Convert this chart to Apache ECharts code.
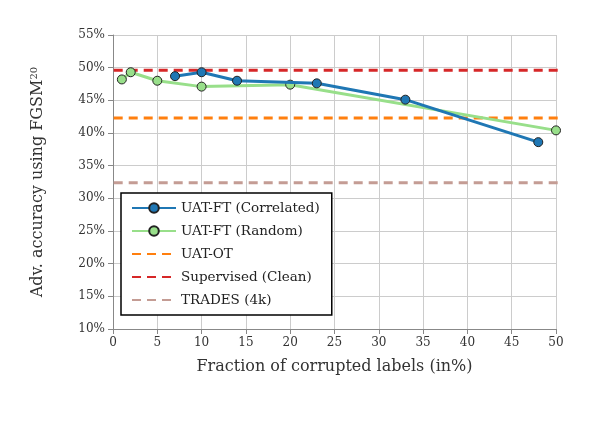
<!DOCTYPE html>
<html>
<head>
<meta charset="utf-8">
<script src="https://cdn.jsdelivr.net/npm/echarts@6/dist/echarts.min.js"></script>
<style>html,body{margin:0;padding:0;background:#fff}#chart{width:594px;height:424px}</style>
</head>
<body>
<div id="chart"></div>
<script>
// data
const corrX = [7, 10, 14, 23, 33, 48];
const corrY = [48.7, 49.3, 48.0, 47.6, 45.1, 38.6];
const randX = [1, 2, 5, 10, 20, 50];
const randY = [48.2, 49.3, 48.0, 47.1, 47.4, 40.4];
const uatOt = 42.3;
const supervised = 49.6;
const trades = 32.4;

const font = 'DejaVu Serif';
const pair = (xs, ys) => xs.map((x, i) => [x, ys[i]]);
const flat = (v) => [[-5, v], [60, v]];
const noMark = (name) => ({ name: name, itemStyle: { opacity: 0 } });

const chart = echarts.init(document.getElementById('chart'));
chart.setOption({
    animation: false,
    textStyle: { fontFamily: font },
    grid: { left: 113, right: 38, top: 35, bottom: 95 },
    xAxis: {
        type: 'value', min: 0, max: 50, interval: 5,
        name: 'Fraction of corrupted labels (in%)',
        nameLocation: 'middle', nameGap: 30,
        nameTextStyle: { fontSize: 16, color: '#333', fontFamily: font },
        axisLine: { lineStyle: { color: '#888' } },
        axisTick: { show: true, lineStyle: { color: '#888' } },
        axisLabel: { fontSize: 12, color: '#333', fontFamily: font },
        splitLine: { show: true, lineStyle: { color: '#ccc' } }
    },
    yAxis: {
        type: 'value', min: 10, max: 55, interval: 5,
        name: 'Adv. accuracy using FGSM{sup|20}',
        nameLocation: 'middle', nameGap: 66,
        nameTextStyle: { fontSize: 16, color: '#333', fontFamily: font,
            rich: { sup: { fontSize: 10, verticalAlign: 'top', padding: [0, 0, 8, 0], fontFamily: font } } },
        axisLine: { show: true, lineStyle: { color: '#888' } },
        axisTick: { show: true, lineStyle: { color: '#888' } },
        axisLabel: { fontSize: 12, color: '#333', fontFamily: font, formatter: '{value}%' },
        splitLine: { show: true, lineStyle: { color: '#ccc' } }
    },
    legend: {
        orient: 'vertical', left: 121, top: 193, padding: [8, 12, 8, 10],
        borderColor: '#000', borderWidth: 1.5, backgroundColor: '#fff',
        itemWidth: 44, itemHeight: 12, itemGap: 9,
        textStyle: { fontSize: 13.5, color: '#222', fontFamily: font },
        data: ['UAT-FT (Correlated)', 'UAT-FT (Random)', noMark('UAT-OT'), noMark('Supervised (Clean)'), noMark('TRADES (4k)')]
    },
    series: [
        { name: 'UAT-OT', type: 'line', data: flat(uatOt), symbol: 'none', z: 1,
          lineStyle: { color: '#ff7f0e', width: 3, type: [9, 6] }, itemStyle: { color: '#ff7f0e' } },
        { name: 'Supervised (Clean)', type: 'line', data: flat(supervised), symbol: 'none', z: 1,
          lineStyle: { color: '#d62728', width: 3, type: [9, 6] }, itemStyle: { color: '#d62728' } },
        { name: 'TRADES (4k)', type: 'line', data: flat(trades), symbol: 'none', z: 1,
          lineStyle: { color: '#c49c94', width: 3, type: [9, 6] }, itemStyle: { color: '#c49c94' } },
        { name: 'UAT-FT (Correlated)', type: 'line', data: pair(corrX, corrY), symbol: 'circle', symbolSize: 9, z: 3,
          lineStyle: { color: '#1f77b4', width: 3 }, itemStyle: { color: '#1f77b4', borderColor: '#222', borderWidth: 1 } },
        { name: 'UAT-FT (Random)', type: 'line', data: pair(randX, randY), symbol: 'circle', symbolSize: 9, z: 2,
          lineStyle: { color: '#98df8a', width: 3 }, itemStyle: { color: '#98df8a', borderColor: '#222', borderWidth: 1 } }
    ]
});
</script>
</body>
</html>
